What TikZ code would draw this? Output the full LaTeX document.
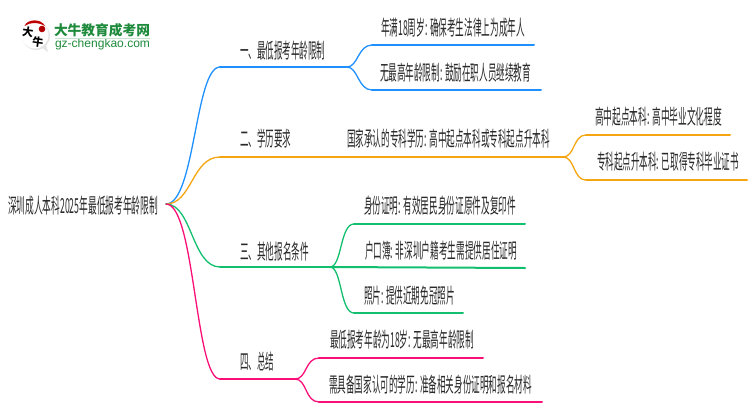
\documentclass[tikz,border=0pt]{standalone}
\usepackage{fontspec}
\setmainfont{Noto Sans CJK SC}
\newfontfamily\latinlogo{Liberation Sans}
\definecolor{cblue}{HTML}{1E90FF}
\definecolor{corange}{HTML}{F5A50F}
\definecolor{cgreen}{HTML}{12BF6E}
\definecolor{cpink}{HTML}{FA0F78}
\definecolor{ctext}{HTML}{2A2A2A}
\definecolor{clogo}{HTML}{1E8A3C}
\newcommand{\fitlabel}[2]{\resizebox{#1pt}{17.5pt}{#2}}
\tikzset{
  lbl/.style={inner sep=0pt,text=ctext,font=\fontsize{14}{16}\selectfont},
  curve/.style={line width=1.3pt,line cap=round},
  under/.style={line width=2pt,line cap=round},
  blueb/.style={draw=cblue},
  orangeb/.style={draw=corange},
  greenb/.style={draw=cgreen},
  pinkb/.style={draw=cpink}
}
\begin{document}
\begin{tikzpicture}[x=1pt,y=-1pt]
\useasboundingbox (0,0) rectangle (750,410);
% logo
\fill[white!90!black] (36,36) circle (14);
\fill[white] (35,35) circle (13.5);
\fill[white!90!black] (41,47) -- (48,52) -- (46,44) -- cycle;
\fill[red!75!black] (24.5,26) .. controls (27,19) and (41,18) .. (45,26) .. controls (38,22) and (30,22) .. (24.5,26) -- cycle;
\fill[red!70!black] (42,29) circle (3.3);
\node[inner sep=0pt,rotate=-8,font=\fontsize{11}{11}\selectfont\bfseries] (logoa) at (28,32) {大};
\node[inner sep=0pt,rotate=-8,font=\fontsize{11}{11}\selectfont\bfseries] (logob) at (38,42) {牛};
\node[inner sep=0pt,text=clogo] (logoc) at (102,30) {\resizebox{96pt}{12pt}{\bfseries 大牛教育成考网}};
\node[inner sep=0pt,text=clogo] (logod) at (102.5,44.5) {\resizebox{95pt}{!}{\latinlogo gz-chengkao.com}};
\draw[clogo!25,line width=0.6pt] (55,38) -- (150,38);
% text nodes
\node[lbl] (root) at (83,206) {\fitlabel{150}{深圳成人本科2025年最低报考年龄限制}};
\node[lbl] (b1) at (282.5,51) {\fitlabel{85}{一、最低报考年龄限制}};
\node[lbl] (b2) at (265.5,139) {\fitlabel{51}{二、学历要求}};
\node[lbl] (b3) at (274.5,252) {\fitlabel{69}{三、其他报名条件}};
\node[lbl] (b4) at (257,362) {\fitlabel{34}{四、总结}};
\node[lbl] (a1) at (453,28) {\fitlabel{144}{年满18周岁: 确保考生法律上为成年人}};
\node[lbl] (a2) at (455.5,72.5) {\fitlabel{151}{无最高年龄限制: 鼓励在职人员继续教育}};
\node[lbl] (m2) at (448.5,139) {\fitlabel{203}{国家承认的专科学历: 高中起点本科或专科起点升本科}};
\node[lbl] (c1) at (658.5,117) {\fitlabel{127}{高中起点本科: 高中毕业文化程度}};
\node[lbl] (c2) at (668,162) {\fitlabel{142}{专科起点升本科: 已取得专科毕业证书}};
\node[lbl] (d1) at (440,206) {\fitlabel{152}{身份证明: 有效居民身份证原件及复印件}};
\node[lbl] (d2) at (441,251) {\fitlabel{152}{户口簿: 非深圳户籍考生需提供居住证明}};
\node[lbl] (d3) at (409.5,296) {\fitlabel{91}{照片: 提供近期免冠照片}};
\node[lbl] (e1) at (402,340) {\fitlabel{144}{最低报考年龄为18岁: 无最高年龄限制}};
\node[lbl] (e2) at (430.5,385) {\fitlabel{203}{需具备国家认可的学历: 准备相关身份证明和报名材料}};
% junctions
\coordinate (hub) at (166,204);
\coordinate (s1) at (220,67);   \coordinate (j1) at (347,67);
\coordinate (s2) at (220,157);  \coordinate (j2) at (563,157);
\coordinate (s3) at (220,267);  \coordinate (j3) at (330,267);
\coordinate (s4) at (220,379);  \coordinate (j4) at (295,379);
\coordinate (a1s) at (372,45);  \coordinate (a1e) at (534,45);
\coordinate (a2s) at (372,90);  \coordinate (a2e) at (541,90);
\coordinate (c1s) at (586,135); \coordinate (c1e) at (730,135);
\coordinate (c2s) at (586,180); \coordinate (c2e) at (747,180);
\coordinate (d1s) at (354,224); \coordinate (d1e) at (525,224);
\coordinate (d2e) at (525,268);
\coordinate (d3s) at (354,313); \coordinate (d3e) at (463,313);
\coordinate (e1s) at (319,358); \coordinate (e1e) at (483,358);
\coordinate (e2s) at (319,402); \coordinate (e2e) at (542,402);
% main branches
\draw[curve,blueb] (hub) .. controls (195,204) and (195,67) .. (s1);
\draw[under,blueb] (s1) -- (j1);
\draw[curve,orangeb] (hub) .. controls (192,204) and (192,157) .. (s2);
\draw[under,orangeb] (s2) -- (j2);
\draw[curve,greenb] (hub) .. controls (192,204) and (192,267) .. (s3);
\draw[under,greenb] (s3) -- (j3);
\draw[curve,pinkb] (hub) .. controls (195,204) and (195,379) .. (s4);
\draw[under,pinkb] (s4) -- (j4);
% children
\draw[curve,blueb] (j1) .. controls (358,67) and (358,45) .. (a1s);
\draw[under,blueb] (a1s) -- (a1e);
\draw[curve,blueb] (j1) .. controls (358,67) and (358,90) .. (a2s);
\draw[under,blueb] (a2s) -- (a2e);
\draw[curve,orangeb] (j2) .. controls (575,157) and (573,135) .. (c1s);
\draw[under,orangeb] (c1s) -- (c1e);
\draw[curve,orangeb] (j2) .. controls (575,157) and (573,180) .. (c2s);
\draw[under,orangeb] (c2s) -- (c2e);
\draw[curve,greenb] (j3) .. controls (342,267) and (340,224) .. (d1s);
\draw[under,greenb] (d1s) -- (d1e);
\draw[under,greenb] (j3) -- (d2e);
\draw[curve,greenb] (j3) .. controls (342,267) and (340,313) .. (d3s);
\draw[under,greenb] (d3s) -- (d3e);
\draw[curve,pinkb] (j4) .. controls (307,379) and (305,358) .. (e1s);
\draw[under,pinkb] (e1s) -- (e1e);
\draw[curve,pinkb] (j4) .. controls (307,379) and (305,402) .. (e2s);
\draw[under,pinkb] (e2s) -- (e2e);
\end{tikzpicture}
\end{document}
